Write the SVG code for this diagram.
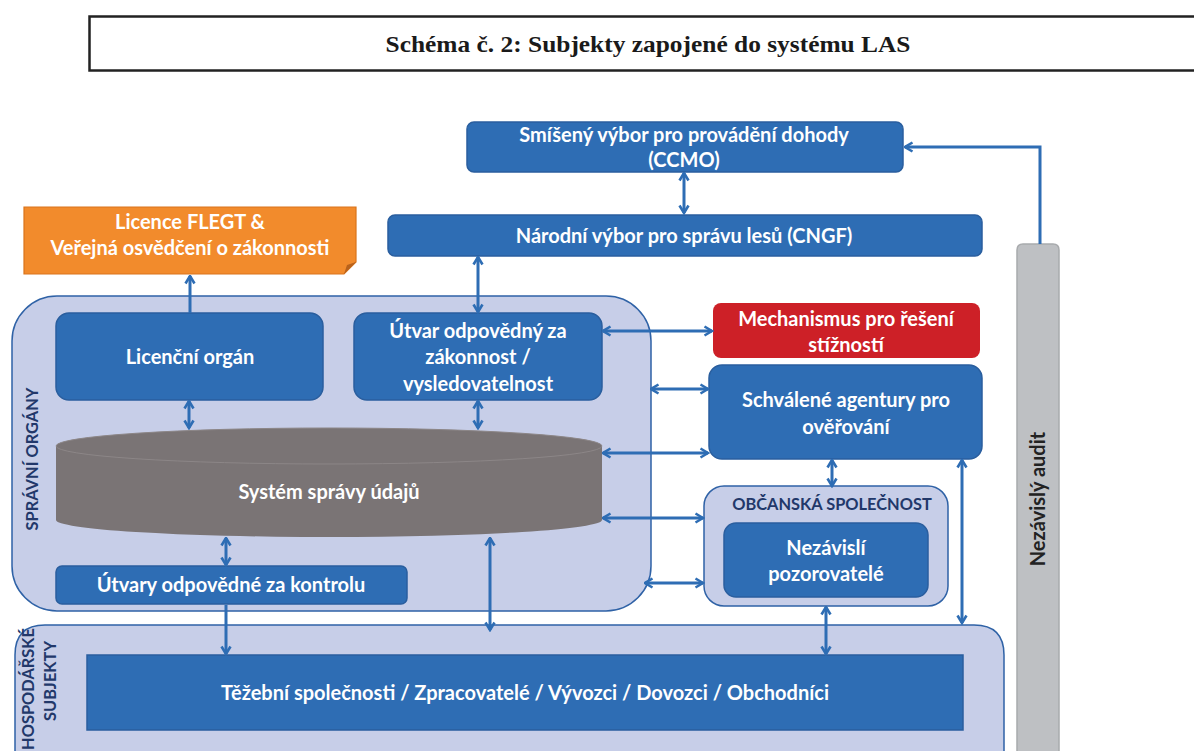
<svg xmlns="http://www.w3.org/2000/svg" width="1194" height="751" viewBox="0 0 1194 751">
<style>
.box{fill:#2E6DB4;stroke:#2A5E9E;stroke-width:1.5}
.cont{fill:#C7CEE8;stroke:#2F62A6;stroke-width:1.5}
.t{font-family:Lato,"Open Sans","DejaVu Sans",sans-serif;font-weight:bold;fill:#fff;font-size:20px;text-anchor:middle}
.lab{font-family:Lato,"Open Sans","DejaVu Sans",sans-serif;font-weight:bold;fill:#22386A;font-size:16.4px;text-anchor:middle}
.con{fill:none;stroke:#2E6DB4;stroke-width:3}
</style>
<defs>
<marker id="ah" markerUnits="userSpaceOnUse" viewBox="0 0 12 12" markerWidth="12" markerHeight="12" refX="10.5" refY="6" orient="auto-start-reverse">
<path d="M3,1.5 L10.5,6 L3,10.5" fill="none" stroke="#2E6DB4" stroke-width="2.6"/>
</marker>
</defs>
<rect width="1194" height="751" fill="#fff"/>

<g id="title">
<rect x="89.5" y="16.5" width="1120" height="54" fill="#fff" stroke="#222" stroke-width="2.5"/>
<text x="648" y="52" font-family="Liberation Serif,serif" font-weight="bold" font-size="23" text-anchor="middle" fill="#1a1a1a" textLength="525" lengthAdjust="spacingAndGlyphs">Schéma č. 2: Subjekty zapojené do systému LAS</text>
</g>

<g id="audit">
<path d="M1017,751 V250 Q1017,244 1023,244 H1053 Q1059,244 1059,250 V751" fill="#BEC0C3" stroke="#A8AAAD" stroke-width="1.5"/>
<text transform="translate(1045,499) rotate(-90)" font-family="Lato,'Open Sans',sans-serif" font-weight="bold" font-size="20" text-anchor="middle" fill="#222">Nezávislý audit</text>
</g>

<g id="spravni">
<rect class="cont" x="12" y="296" width="639" height="315" rx="45"/>
<text class="lab" transform="translate(38,459) rotate(-90)">SPRÁVNÍ ORGÁNY</text>
</g>

<g id="hospodarske">
<path class="cont" d="M15,760 V655 Q15,625 45,625 H974 Q1004,625 1004,655 V760"/>
<text class="lab" transform="translate(34,689) rotate(-90)" font-size="16">HOSPODÁŘSKÉ</text>
<text class="lab" transform="translate(56,681) rotate(-90)" font-size="16">SUBJEKTY</text>
</g>

<g id="obcanska">
<rect class="cont" x="704" y="486" width="244" height="120" rx="20"/>
<text class="lab" x="832" y="510" font-size="17.5">OBČANSKÁ SPOLEČNOST</text>
</g>

<g id="ccmo">
<rect class="box" x="467" y="122" width="436" height="50" rx="7"/>
<text class="t" x="684" y="142">Smíšený výbor pro provádění dohody</text>
<text class="t" x="684" y="167">(CCMO)</text>
</g>

<g id="cngf">
<rect class="box" x="388" y="215" width="594" height="41" rx="7"/>
<text class="t" x="684" y="243">Národní výbor pro správu lesů (CNGF)</text>
</g>

<g id="flegt">
<path d="M24,207 H356 V262 L344,274 H24 Z" fill="#F28B2C" stroke="#D9741C" stroke-width="1.2"/>
<path d="M344,274 L347,265 L356,262 Z" fill="#B8621C"/>
<text class="t" x="190" y="229">Licence FLEGT &amp;</text>
<text class="t" x="190" y="255">Veřejná osvědčení o zákonnosti</text>
</g>

<g id="licencni">
<rect class="box" x="56" y="313" width="267" height="87" rx="13"/>
<text class="t" x="190" y="364">Licenční orgán</text>
</g>

<g id="utvar">
<rect class="box" x="354" y="313" width="248" height="87" rx="13"/>
<text class="t" x="478" y="338">Útvar odpovědný za</text>
<text class="t" x="478" y="364">zákonnost /</text>
<text class="t" x="478" y="391">vysledovatelnost</text>
</g>

<g id="system">
<path d="M56,446 V520 A273,17 0 0 0 602,520 V446 Z" fill="#7A7475"/>
<ellipse cx="329" cy="446" rx="273" ry="18" fill="#7A7475" stroke="#8C8687" stroke-width="1"/>
<text class="t" x="329" y="499">Systém správy údajů</text>
</g>

<g id="kontrola">
<rect class="box" x="56" y="566" width="351" height="38" rx="6"/>
<text class="t" x="231" y="592">Útvary odpovědné za kontrolu</text>
</g>

<g id="mechanismus">
<rect x="713" y="303" width="267" height="55" rx="8" fill="#CD2027"/>
<text class="t" x="846" y="326">Mechanismus pro řešení</text>
<text class="t" x="846" y="352">stížností</text>
</g>

<g id="schvalene">
<rect class="box" x="709" y="365" width="273" height="94" rx="13"/>
<text class="t" x="846" y="407">Schválené agentury pro</text>
<text class="t" x="846" y="434">ověřování</text>
</g>

<g id="pozorovatele">
<rect class="box" x="724" y="523" width="204" height="74" rx="12"/>
<text class="t" x="826" y="555">Nezávislí</text>
<text class="t" x="826" y="581">pozorovatelé</text>
</g>

<g id="tezebni">
<rect x="87" y="655" width="876" height="75" fill="#2E6DB4" stroke="#2A5E9E" stroke-width="1.5"/>
<text class="t" x="525" y="700">Těžební společnosti / Zpracovatelé / Vývozci / Dovozci / Obchodníci</text>
</g>

<g id="connectors">
<path class="con" d="M684,173 V213" marker-start="url(#ah)" marker-end="url(#ah)"/>
<path class="con" d="M478,257 V312" marker-start="url(#ah)" marker-end="url(#ah)"/>
<path class="con" d="M190,313 V276" marker-end="url(#ah)"/>
<path class="con" d="M1040,244 V147 H905" marker-end="url(#ah)"/>
<path class="con" d="M189,401 V428" marker-start="url(#ah)" marker-end="url(#ah)"/>
<path class="con" d="M478,401 V428" marker-start="url(#ah)" marker-end="url(#ah)"/>
<path class="con" d="M603,331 H712" marker-start="url(#ah)" marker-end="url(#ah)"/>
<path class="con" d="M651,389 H708" marker-start="url(#ah)" marker-end="url(#ah)"/>
<path class="con" d="M603,453 H708" marker-start="url(#ah)" marker-end="url(#ah)"/>
<path class="con" d="M603,518 H703" marker-start="url(#ah)" marker-end="url(#ah)"/>
<path class="con" d="M645,583 H703" marker-start="url(#ah)" marker-end="url(#ah)"/>
<path class="con" d="M226,538 V565" marker-start="url(#ah)" marker-end="url(#ah)"/>
<path class="con" d="M226,605 V654" marker-end="url(#ah)"/>
<path class="con" d="M490,538 V630" marker-start="url(#ah)" marker-end="url(#ah)"/>
<path class="con" d="M832,460 V486" marker-start="url(#ah)" marker-end="url(#ah)"/>
<path class="con" d="M962,460 V623" marker-start="url(#ah)" marker-end="url(#ah)"/>
<path class="con" d="M826,607 V654" marker-start="url(#ah)" marker-end="url(#ah)"/>
</g>
</svg>
